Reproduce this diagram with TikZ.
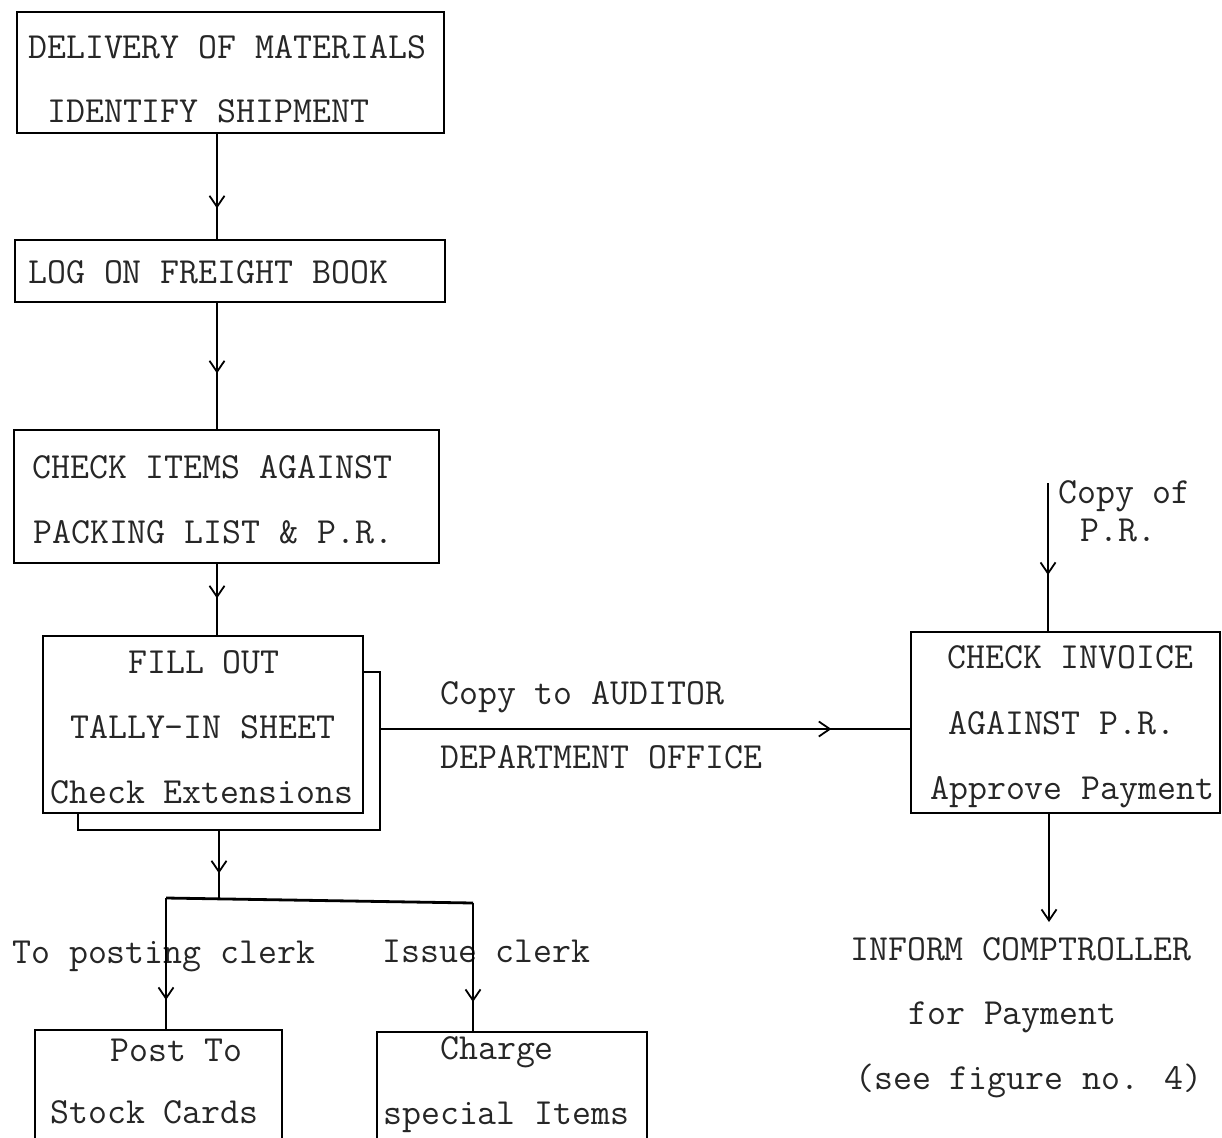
\documentclass[tikz,border=0pt]{standalone}
\usepackage{fontspec}
\usetikzlibrary{arrows.meta,decorations.markings}
\tikzset{
  box/.style 2 args={draw, line width=2.8pt, minimum width=#1pt, minimum height=#2pt, inner sep=0pt},
  txt/.style={anchor=base west, inner sep=0pt, text=black!85, font=\ttfamily\fontsize{36.8pt}{40pt}\selectfont},
  conn/.style={line width=2.8pt},
  marr/.style={postaction={decorate, decoration={markings, mark=at position #1 with {\arrow{Straight Barb[length=11pt,width=15pt,line width=1.8pt]}}}}},
  endarr/.style={-{Straight Barb[length=11pt,width=15pt,line width=1.8pt]}}
}
\begin{document}
\begin{tikzpicture}[x=1pt,y=-1pt]
\useasboundingbox (0,0) rectangle (1222,1137);
% boxes
\node[box={427}{121}] (b1) at (230.5,72.5) {};
\node[box={430}{62}] (b2) at (230,271) {};
\node[box={425}{133}] (b3) at (226.5,496.5) {};
\node[box={302}{158}] (b4back) at (229,751) {};
\node[box={320}{177}, fill=white] (b4) at (203,724.5) {};
\node[box={309}{181}] (b5) at (1065.5,722.5) {};
\node[box={247}{120}] (b6) at (158.5,1090) {};
\node[box={270}{118}] (b7) at (512,1091) {};
% texts
\node[txt] (t1a) at (28,59) {DELIVERY OF MATERIALS};
\node[txt] (t1b) at (47,123) {IDENTIFY SHIPMENT};
\node[txt] (t2) at (28,283) {LOG ON FREIGHT BOOK};
\node[txt] (t3a) at (32,478) {CHECK ITEMS AGAINST};
\node[txt] (t3b) at (33,543) {PACKING LIST \& P.R.};
\node[txt] (t4a) at (128,673) {FILL OUT};
\node[txt] (t4b) at (70,738) {TALLY-IN SHEET};
\node[txt] (t4c) at (50,803) {Check Extensions};
\node[txt] (t5a) at (947,668) {CHECK INVOICE};
\node[txt] (t5b) at (948,734) {AGAINST P.R.};
\node[txt] (t5c) at (930,799) {Approve Payment};
\node[txt] (aud1) at (440,704) {Copy to AUDITOR};
\node[txt] (aud2) at (440,768) {DEPARTMENT OFFICE};
\node[txt] (pr1) at (1058,503) {Copy of};
\node[txt] (pr2) at (1080,541) {P.R.};
\node[txt] (tp) at (12,963) {To posting clerk};
\node[txt] (ic) at (382,962) {Issue clerk};
\node[txt] (t6a) at (110,1061) {Post To};
\node[txt] (t6b) at (50,1123) {Stock Cards};
\node[txt] (t7a) at (440,1059) {Charge};
\node[txt] (t7b) at (383,1124) {special Items};
\node[txt] (ca) at (850,960) {INFORM COMPTROLLER};
\node[txt] (cb) at (908,1024) {for Payment};
\node[txt] (cc) at (855,1089) {(see figure no. 4)};
% connectors
\coordinate (sp) at (217,0);
\draw[conn, marr=74pt] (b1.south -| sp) -- (b2.north -| sp);
\draw[conn, marr=70pt] (b2.south -| sp) -- (b3.north -| sp);
\draw[conn, marr=34pt] (b3.south -| sp) -- (b4.north -| sp);
\coordinate (jm) at (219,900);
\coordinate (jl) at (166,898);
\coordinate (jr) at (473,903);
\draw[conn, marr=42pt] (b4back.south -| jm) -- (jm);
\draw[conn] (jl) -- (jr);
\draw[conn, marr=102pt] (jl) -- (jl |- b6.north);
\draw[conn, marr=99pt] (jr) -- (jr |- b7.north);
\coordinate (aud) at (0,729);
\draw[conn, marr=450pt] (b4back.east |- aud) -- (b5.west |- aud);
\coordinate (prs) at (1048,483);
\draw[conn, marr=92pt] (prs) -- (prs |- b5.north);
\coordinate (cmp) at (1049,922);
\draw[conn, endarr] (cmp |- b5.south) -- (cmp);
\end{tikzpicture}
\end{document}
